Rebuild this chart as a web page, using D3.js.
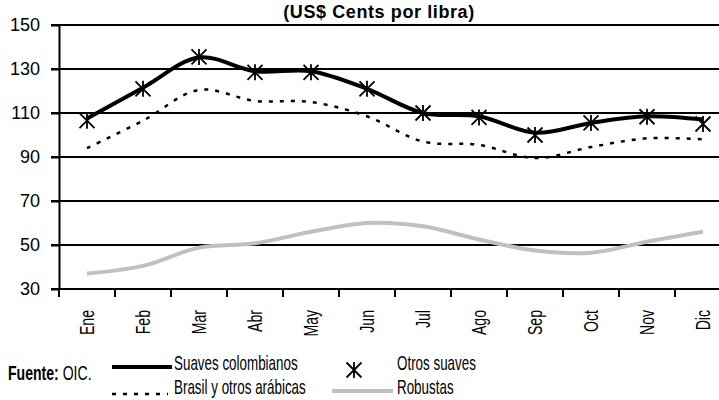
<!DOCTYPE html>
<html>
<head>
<meta charset="utf-8">
<script src="https://cdn.jsdelivr.net/npm/d3@7"></script>
<style>
  body { margin: 0; background: #fff; }
  svg { display: block; font-family: "Liberation Sans", Arial, sans-serif; }
</style>
</head>
<body>
<svg id="chart"></svg>
<script>
// months and series (US$ cents per pound)
const months = ["Ene", "Feb", "Mar", "Abr", "May", "Jun", "Jul", "Ago", "Sep", "Oct", "Nov", "Dic"];
const suavesColombianos = [107.5, 121.5, 135.2, 129, 129, 121, 110, 108.5, 101, 105.5, 108.5, 107];
const otrosSuaves = [106.5, 121, 135.5, 128.5, 128.5, 121, 110, 108, 100, 105.5, 108.3, 105];
const brasilArabicas = [94, 106.5, 120.5, 115.5, 115, 108.5, 97, 95.5, 89.5, 94.5, 98.5, 98];
const robustas = [37, 40.5, 48.8, 50.8, 56, 60, 58.5, 52.5, 47.5, 46.5, 51.5, 56];
const yTicks = [30, 50, 70, 90, 110, 130, 150];

const title = "(US$ Cents por libra)";
const legendItems = [
  { name: "Suaves colombianos", type: "solid" },
  { name: "Otros suaves", type: "star" },
  { name: "Brasil y otros arábicas", type: "dot" },
  { name: "Robustas", type: "gray" }
];

const W = 719, H = 400;
const narrow = 0.67; // text in the original is horizontally squeezed

const svg = d3.select("#chart").attr("width", W).attr("height", H);

const x = d3.scaleBand().domain(months).range([59, 731]);
const cx = (m) => x(m) + x.bandwidth() / 2;
const y = d3.scaleLinear().domain([30, 150]).range([289, 25]);

// title
svg.append("text")
  .attr("x", 379)
  .attr("y", 18)
  .attr("text-anchor", "middle")
  .style("font-weight", "bold")
  .style("font-size", "18px")
  .style("letter-spacing", "0.6px")
  .text(title);

// gridlines
svg.append("g")
  .selectAll("line")
  .data(yTicks)
  .join("line")
  .attr("x1", 51)
  .attr("x2", W)
  .attr("y1", (d) => y(d))
  .attr("y2", (d) => y(d))
  .attr("stroke", "#000")
  .attr("stroke-width", 2);

// y axis
const yAxis = svg.append("g")
  .attr("transform", "translate(59,0)")
  .call(d3.axisLeft(y).tickValues(yTicks).tickSize(8).tickSizeOuter(0).tickPadding(11));
yAxis.select(".domain").attr("stroke", "#000").attr("stroke-width", 2);
yAxis.selectAll(".tick line").attr("stroke", "#000").attr("stroke-width", 2);
yAxis.selectAll(".tick text")
  .attr("fill", "#000")
  .style("font-size", "18px")
  .style("font-family", "'Liberation Sans', Arial, sans-serif");

// x ticks at category boundaries
const bounds = months.map((m) => x(m)).concat([x.range()[1]]);
svg.append("g")
  .selectAll("line")
  .data(bounds)
  .join("line")
  .attr("x1", (d) => d)
  .attr("x2", (d) => d)
  .attr("y1", y(30))
  .attr("y2", y(30) + 8)
  .attr("stroke", "#000")
  .attr("stroke-width", 2);

// x labels, rotated
svg.append("g")
  .selectAll("text")
  .data(months)
  .join("text")
  .attr("transform", (m) => `translate(${cx(m) + 7},${y(30) + 21}) rotate(-90) scale(${narrow},1)`)
  .attr("text-anchor", "end")
  .style("font-size", "21px")
  .text((m) => m);

// lines
const line = d3.line()
  .x((d, i) => cx(months[i]))
  .y((d) => y(d))
  .curve(d3.curveCatmullRom.alpha(0.5));

svg.append("path")
  .datum(robustas)
  .attr("d", line)
  .attr("fill", "none")
  .attr("stroke", "#c0c0c0")
  .attr("stroke-width", 4);

svg.append("path")
  .datum(brasilArabicas)
  .attr("d", line)
  .attr("fill", "none")
  .attr("stroke", "#000")
  .attr("stroke-width", 2.5)
  .attr("stroke-dasharray", "4,7");

svg.append("path")
  .datum(suavesColombianos)
  .attr("d", line)
  .attr("fill", "none")
  .attr("stroke", "#000")
  .attr("stroke-width", 4)
  .attr("stroke-linejoin", "round");

const star = "M0,-8V8M-7.5,-7.5L7.5,7.5M-7.5,7.5L7.5,-7.5";
svg.append("g")
  .selectAll("path")
  .data(otrosSuaves)
  .join("path")
  .attr("transform", (d, i) => `translate(${cx(months[i])},${y(d)})`)
  .attr("d", star)
  .attr("fill", "none")
  .attr("stroke", "#000")
  .attr("stroke-width", 1.8);

// source note
const src = svg.append("text")
  .attr("transform", `translate(8,380) scale(${narrow},1)`)
  .style("font-size", "21px");
src.append("tspan").style("font-weight", "bold").text("Fuente:");
src.append("tspan").text(" OIC.");

// legend
const legendPos = [
  { sx: 112, ex: 172, sy: 367, tx: 174, ty: 370 },
  { sx: 354, ex: 354, sy: 370, tx: 397, ty: 370 },
  { sx: 112, ex: 168, sy: 394, tx: 174, ty: 394 },
  { sx: 332, ex: 393, sy: 391, tx: 397, ty: 394 }
];
legendItems.forEach((item, i) => {
  const p = legendPos[i];
  const g = svg.append("g");
  if (item.type === "star") {
    g.append("path")
      .attr("transform", `translate(${p.sx},${p.sy})`)
      .attr("d", star)
      .attr("fill", "none")
      .attr("stroke", "#000")
      .attr("stroke-width", 1.8);
  } else {
    g.append("line")
      .attr("x1", p.sx)
      .attr("x2", p.ex)
      .attr("y1", p.sy)
      .attr("y2", p.sy)
      .attr("stroke", item.type === "gray" ? "#c0c0c0" : "#000")
      .attr("stroke-width", item.type === "dot" ? 2.5 : 4)
      .attr("stroke-dasharray", item.type === "dot" ? "4,7" : null);
  }
  g.append("text")
    .attr("transform", `translate(${p.tx},${p.ty}) scale(${narrow},1)`)
    .style("font-size", "20px")
    .text(item.name);
});
</script>
</body>
</html>
